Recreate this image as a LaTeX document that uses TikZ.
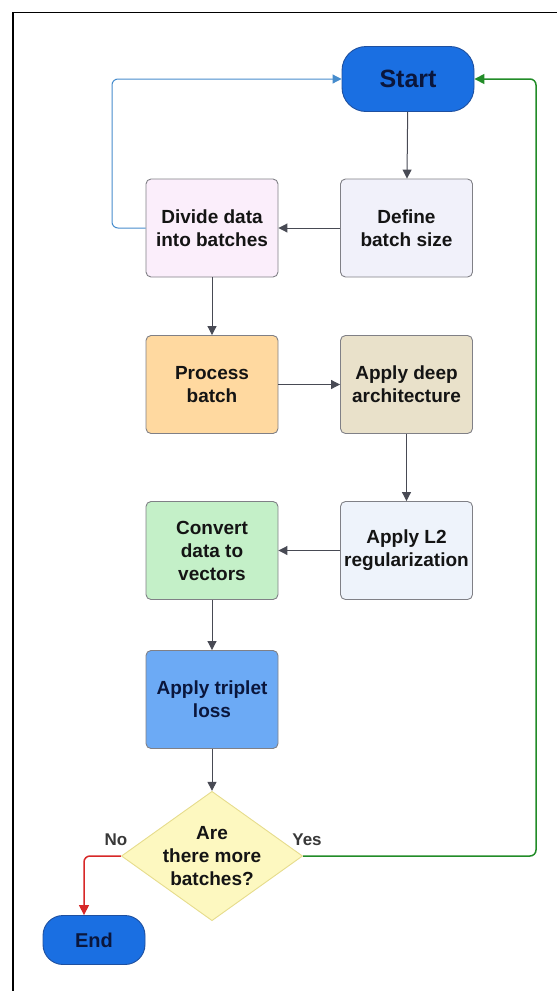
\documentclass[tikz,border=0pt]{standalone}
\usepackage{fontspec}
\setmainfont{Liberation Sans}
\usetikzlibrary{shapes.geometric,arrows.meta}
\definecolor{termfill}{RGB}{26,111,226}
\definecolor{termdraw}{RGB}{30,80,160}
\definecolor{termtext}{RGB}{10,22,60}
\definecolor{boxdraw}{RGB}{128,128,134}
\definecolor{linegray}{RGB}{72,74,84}
\definecolor{deffill}{RGB}{241,241,250}
\definecolor{divfill}{RGB}{251,238,251}
\definecolor{procfill}{RGB}{255,217,160}
\definecolor{deepfill}{RGB}{233,225,202}
\definecolor{ltwofill}{RGB}{238,243,251}
\definecolor{convfill}{RGB}{196,240,200}
\definecolor{tripfill}{RGB}{108,170,245}
\definecolor{decfill}{RGB}{253,248,192}
\definecolor{decdraw}{RGB}{230,220,140}
\definecolor{loopblue}{RGB}{70,140,205}
\definecolor{yesgreen}{RGB}{34,140,40}
\definecolor{nored}{RGB}{215,40,40}
\tikzset{
  stepbox/.style={draw=boxdraw, line width=0.9pt, rounded corners=5pt,
    minimum width=132pt, minimum height=98pt, align=center,
    font=\bfseries\fontsize{19}{23}\selectfont, text=black!92},
  term/.style={draw=termdraw, line width=0.9pt, fill=termfill,
    rounded corners=24pt, align=center, text=termtext},
  decision/.style={diamond, aspect=1.4, draw=decdraw, line width=0.9pt,
    fill=decfill, align=center, inner sep=0pt,
    minimum width=179pt, minimum height=128pt,
    font=\bfseries\fontsize{19}{23}\selectfont, text=black!92},
  flow/.style={draw=linegray, line width=1pt,
    -{Triangle[length=9pt,width=9pt]}},
  lbl/.style={font=\bfseries\fontsize{17}{20}\selectfont, text=black!78}
}
\begin{document}
\begin{tikzpicture}[x=1pt,y=-1pt]
\useasboundingbox (0,0) rectangle (557,991);
% frame
\draw[line width=1.6pt] (557,12.5) -- (13,12.5) -- (13,991);

% nodes
\node[term, minimum width=132pt, minimum height=65pt,
  font=\bfseries\fontsize{25}{28}\selectfont] (start) at (408,79) {Start};
\node[stepbox, fill=deffill] (define) at (406.5,228) {Define\\batch size};
\node[stepbox, fill=divfill] (divide) at (212,228) {Divide data\\into batches};
\node[stepbox, fill=procfill] (process) at (212,384.5) {Process\\batch};
\node[stepbox, fill=deepfill] (deep) at (406.5,384.5) {Apply deep\\architecture};
\node[stepbox, fill=ltwofill] (ltwo) at (406.5,550.5) {Apply L2\\regularization};
\node[stepbox, fill=convfill] (convert) at (212,550.5) {Convert\\data to\\vectors};
\node[stepbox, fill=tripfill, text=termtext] (triplet) at (212,699.5) {Apply triplet\\loss};
\node[decision] (more) at (212,856) {Are\\there more\\batches?};
\node[term, minimum width=102pt, minimum height=49pt, rounded corners=20pt,
  font=\bfseries\fontsize{20}{24}\selectfont] (end) at (94,940) {End};

% connectors
\draw[flow] (start) -- (define);
\draw[flow] (define) -- (divide);
\draw[flow] (divide) -- (process);
\draw[flow] (process) -- (deep);
\draw[flow] (deep) -- (ltwo);
\draw[flow] (ltwo) -- (convert);
\draw[flow] (convert) -- (triplet);
\draw[flow] (triplet) -- (more);

% loop back for the next batch
\draw[flow, draw=loopblue, rounded corners=6pt, -{Triangle[length=9pt,width=9pt,fill=loopblue]}]
  (divide.west) -- (112,228) -- (112,79) -- (start.west);
\draw[flow, draw=yesgreen, line width=1.5pt, rounded corners=6pt, -{Triangle[length=10pt,width=10pt,fill=yesgreen]}]
  (more.east) -- (536,856) -- (536,79) -- (start.east);
\draw[flow, draw=nored, line width=1.5pt, rounded corners=6pt, -{Triangle[length=10pt,width=10pt,fill=nored]}]
  (more.west) -- (84,856) -- (end.north -| 84,0);

% branch labels
\node[lbl] (nolbl) at (116,840) {No};
\node[lbl] (yeslbl) at (307,840) {Yes};
\end{tikzpicture}
\end{document}
